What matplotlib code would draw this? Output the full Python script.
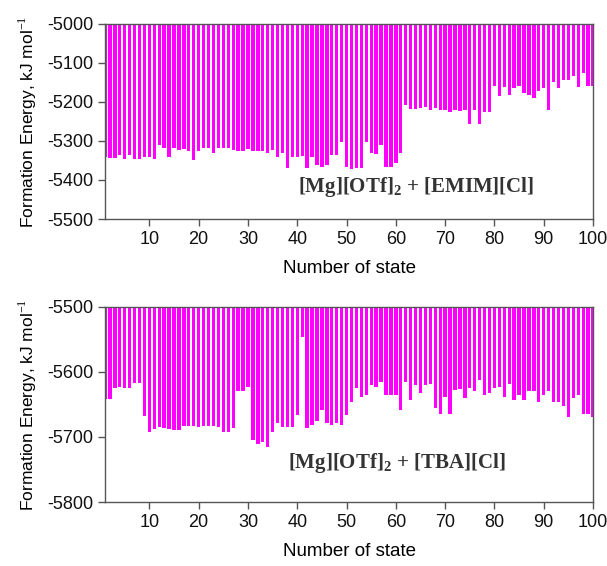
import numpy as np
import matplotlib
matplotlib.use("Agg")
import matplotlib.pyplot as plt

# state index and formation energies (kJ/mol)
states = np.arange(1, 101)

emim_energy = [
    -5340, -5344, -5344, -5336, -5346, -5335, -5346, -5346, -5342, -5340,
    -5346, -5310, -5319, -5340, -5319, -5323, -5320, -5325, -5348, -5327,
    -5319, -5318, -5330, -5318, -5318, -5318, -5322, -5325, -5325, -5320,
    -5327, -5327, -5327, -5332, -5324, -5340, -5332, -5370, -5340, -5340,
    -5338, -5370, -5340, -5362, -5366, -5362, -5336, -5336, -5304, -5368,
    -5372, -5370, -5370, -5304, -5332, -5334, -5310, -5366, -5368, -5357,
    -5332, -5208, -5219, -5219, -5216, -5212, -5221, -5216, -5222, -5222,
    -5227, -5222, -5223, -5222, -5256, -5222, -5256, -5225, -5225, -5159,
    -5185, -5161, -5182, -5165, -5159, -5178, -5182, -5191, -5172, -5165,
    -5222, -5148, -5165, -5144, -5144, -5135, -5161, -5125, -5159, -5159,
]

tba_energy = [
    -5642, -5642, -5625, -5623, -5625, -5625, -5617, -5617, -5668, -5693,
    -5688, -5685, -5686, -5688, -5689, -5689, -5683, -5683, -5683, -5684,
    -5683, -5683, -5683, -5685, -5692, -5692, -5687, -5630, -5630, -5624,
    -5705, -5711, -5707, -5716, -5692, -5679, -5684, -5684, -5684, -5666,
    -5546, -5687, -5682, -5676, -5658, -5679, -5681, -5679, -5682, -5666,
    -5647, -5625, -5638, -5636, -5620, -5624, -5616, -5635, -5635, -5635,
    -5658, -5616, -5643, -5620, -5633, -5620, -5619, -5656, -5664, -5638,
    -5664, -5628, -5627, -5640, -5625, -5630, -5612, -5636, -5633, -5625,
    -5624, -5638, -5618, -5643, -5635, -5643, -5630, -5630, -5646, -5636,
    -5630, -5646, -5646, -5653, -5669, -5640, -5636, -5665, -5665, -5670,
]

panels = [
    (emim_energy, (-5500, -5000), r"[Mg][OTf]$_\mathbf{2}$ + [EMIM][Cl]", (0.637, 0.165)),
    (tba_energy, (-5800, -5500), r"[Mg][OTf]$_\mathbf{2}$ + [TBA][Cl]", (0.597, 0.20)),
]

plt.rcParams["font.family"] = ["Liberation Sans", "DejaVu Sans"]
plt.rcParams["axes.unicode_minus"] = False
plt.rcParams["mathtext.fontset"] = "custom"
plt.rcParams["mathtext.rm"] = "Liberation Serif"
plt.rcParams["mathtext.bf"] = "Liberation Serif:bold"

fig = plt.figure(figsize=(6.07, 5.66), dpi=100)
axes = [
    fig.add_axes([0.173, 0.613, 0.804, 0.345]),
    fig.add_axes([0.173, 0.113, 0.804, 0.345]),
]

bar_color = "#ff00ff"
spine_color = "#555555"

for ax, (energy, ylim, label, pos) in zip(axes, panels):
    energy = np.asarray(energy, dtype=float)
    top = ylim[1]
    ax.bar(states, energy - top, bottom=top, width=0.68, color=bar_color,
           edgecolor="none")
    ax.set_xlim(1, 100)
    ax.set_ylim(*ylim)
    ax.set_xticks(np.arange(10, 101, 10))
    ax.set_yticks(np.arange(ylim[0], ylim[1] + 1, 100))
    ax.tick_params(direction="out", length=5, width=1, color=spine_color,
                   labelsize=13, labelcolor="#111111")
    for sp in ax.spines.values():
        sp.set_color(spine_color)
        sp.set_linewidth(1)
    ax.set_xlabel("Number of state", fontsize=13.5, labelpad=9)
    ax.set_ylabel("Formation Energy, kJ mol$^{-1}$", fontsize=12.5, labelpad=6)
    ax.text(pos[0], pos[1], label, transform=ax.transAxes, ha="center",
            va="center", fontsize=15, fontweight="bold",
            family="Liberation Serif", color="#333333")

fig.savefig("out.png", dpi=100)
plt.close(fig)
